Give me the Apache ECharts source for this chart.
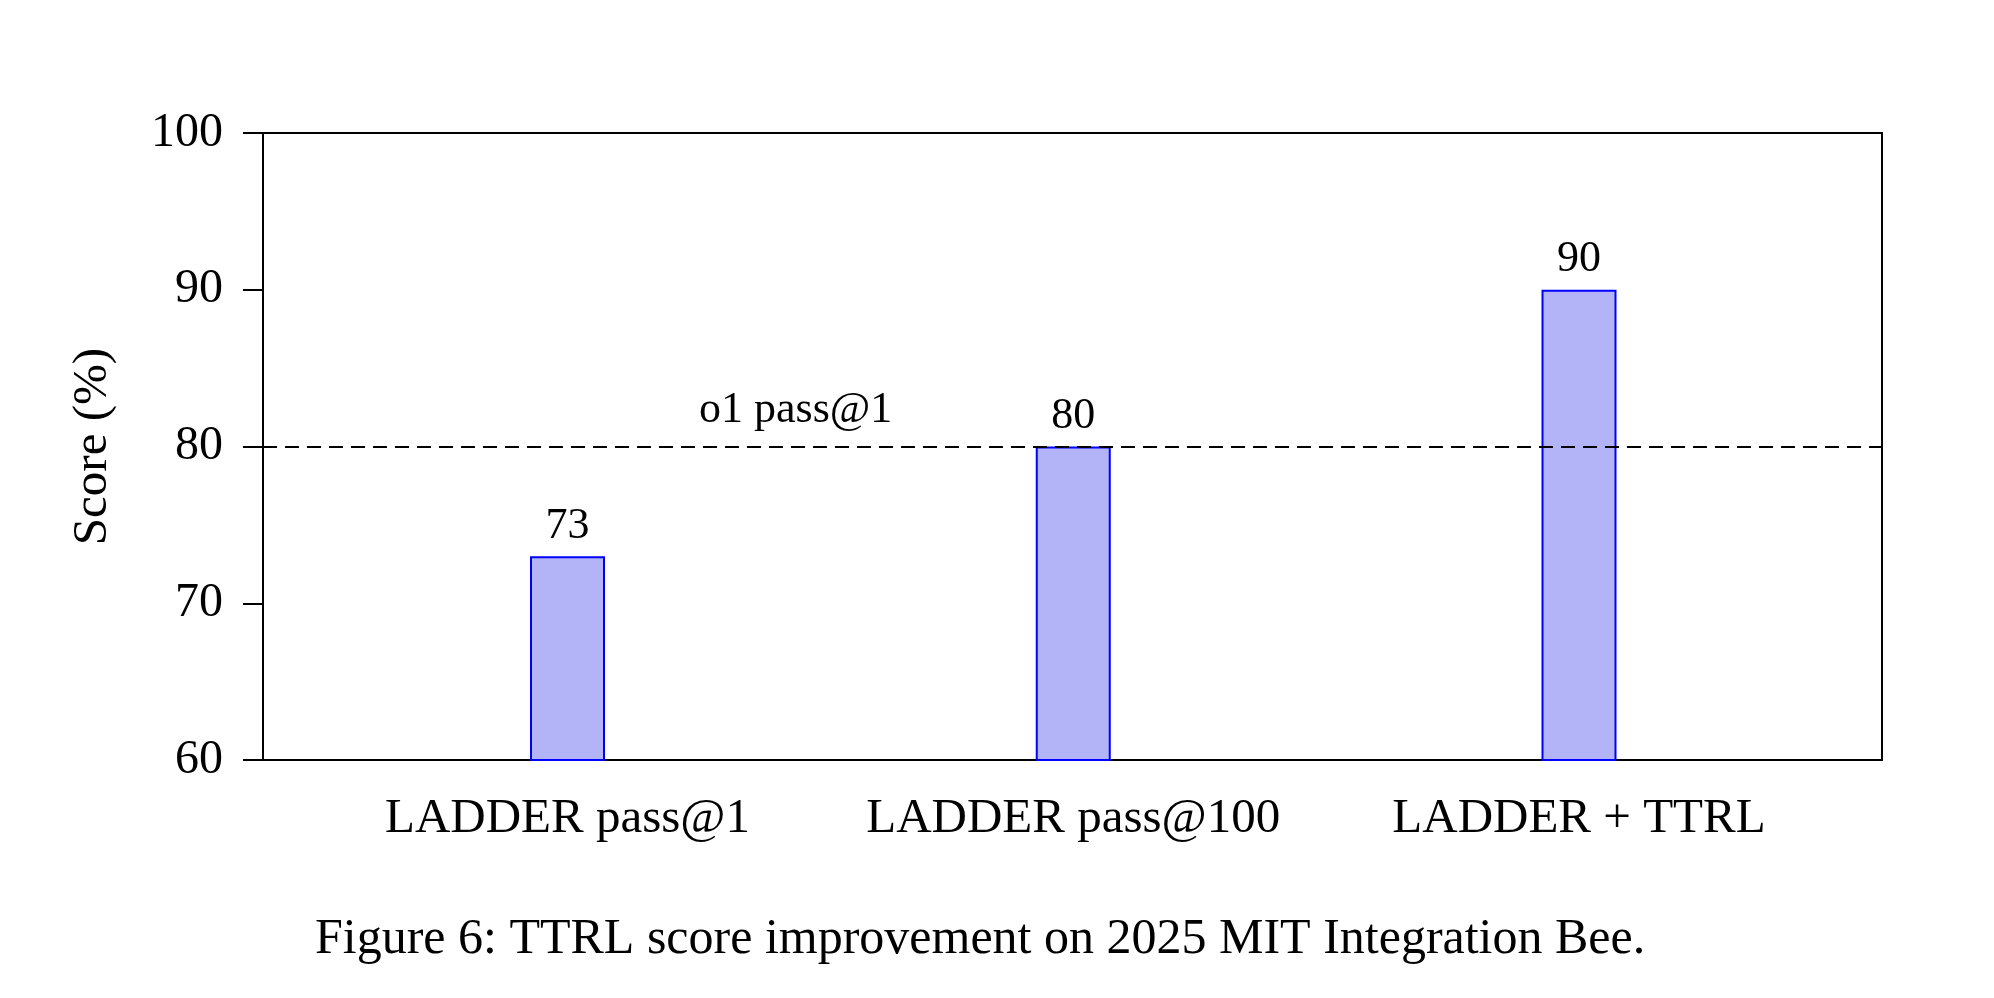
<!DOCTYPE html>
<html>
<head>
<meta charset="utf-8">
<script src="https://cdn.jsdelivr.net/npm/echarts@6/dist/echarts.min.js"></script>
<style>
html,body{margin:0;padding:0;background:#fff;}
#chart{width:1994px;height:998px;}
</style>
</head>
<body>
<div id="chart"></div>
<script>
const categories = ['LADDER pass@1', 'LADDER pass@100', 'LADDER + TTRL'];
const scores = [73, 80, 90];
const yTicks = [60, 70, 80, 90, 100];
const refValue = 80;
const refLabel = 'o1 pass@1';
const refLabelX = 0.329;
const yName = 'Score (%)';
const caption = 'Figure 6: TTRL score improvement on 2025 MIT Integration Bee.';

const FONT = '"Liberation Serif", "DejaVu Serif", serif';
const chart = echarts.init(document.getElementById('chart'));
const yMin = yTicks[0], yMax = yTicks[yTicks.length - 1];
const option = {
  backgroundColor: '#ffffff',
  animation: false,
  title: {
    text: caption,
    left: 310,
    top: 910,
    textStyle: { fontFamily: FONT, fontSize: 50, fontWeight: 'normal', color: '#000' }
  },
  grid: [
    { left: 263, right: 112, top: 133, bottom: 238, show: true, borderColor: '#000', borderWidth: 2, backgroundColor: 'transparent' },
    { left: 567.5, right: 415, top: 133, bottom: 238 }
  ],
  xAxis: [
    { gridIndex: 0, type: 'value', min: 0, max: 1, show: false },
    { gridIndex: 1, type: 'category', data: categories, boundaryGap: false,
      axisLine: { show: false }, axisTick: { show: false },
      axisLabel: { interval: 0, fontFamily: FONT, fontSize: 49, color: '#000', margin: 35 } }
  ],
  yAxis: [
    { gridIndex: 0, type: 'value', min: yMin, max: yMax, interval: 10,
      name: yName, nameLocation: 'middle', nameGap: 145,
      nameTextStyle: { fontFamily: FONT, fontSize: 49, color: '#000' },
      axisLine: { show: true, lineStyle: { color: '#000', width: 2 } },
      axisTick: { show: true, inside: false, length: 20, lineStyle: { color: '#000', width: 2 } },
      splitLine: { show: false },
      axisLabel: { fontFamily: FONT, fontSize: 48, color: '#000', margin: 40 } },
    { gridIndex: 1, type: 'value', min: yMin, max: yMax, interval: 10, show: false, splitLine: { show: false } }
  ],
  series: [
    {
      type: 'bar', xAxisIndex: 1, yAxisIndex: 1,
      data: scores, barWidth: 75, z: 2,
      itemStyle: { color: '#b3b3f7', borderColor: '#0000ff', borderWidth: 2 },
      label: { show: true, position: 'top', distance: 8, fontFamily: FONT, fontSize: 44, color: '#000' }
    },
    {
      type: 'line', xAxisIndex: 0, yAxisIndex: 0, data: [], z: 5,
      markLine: {
        silent: true, symbol: ['none', 'none'], z: 10,
        lineStyle: { color: '#000', type: [14, 8], width: 2 },
        label: { show: false },
        data: [{ yAxis: refValue }]
      },
      markPoint: {
        symbol: 'circle', symbolSize: 0,
        label: { show: true, position: 'top', distance: 14, formatter: refLabel, fontFamily: FONT, fontSize: 44, color: '#000' },
        data: [{ coord: [refLabelX, refValue] }]
      }
    }
  ]
};
chart.setOption(option);
</script>
</body>
</html>
